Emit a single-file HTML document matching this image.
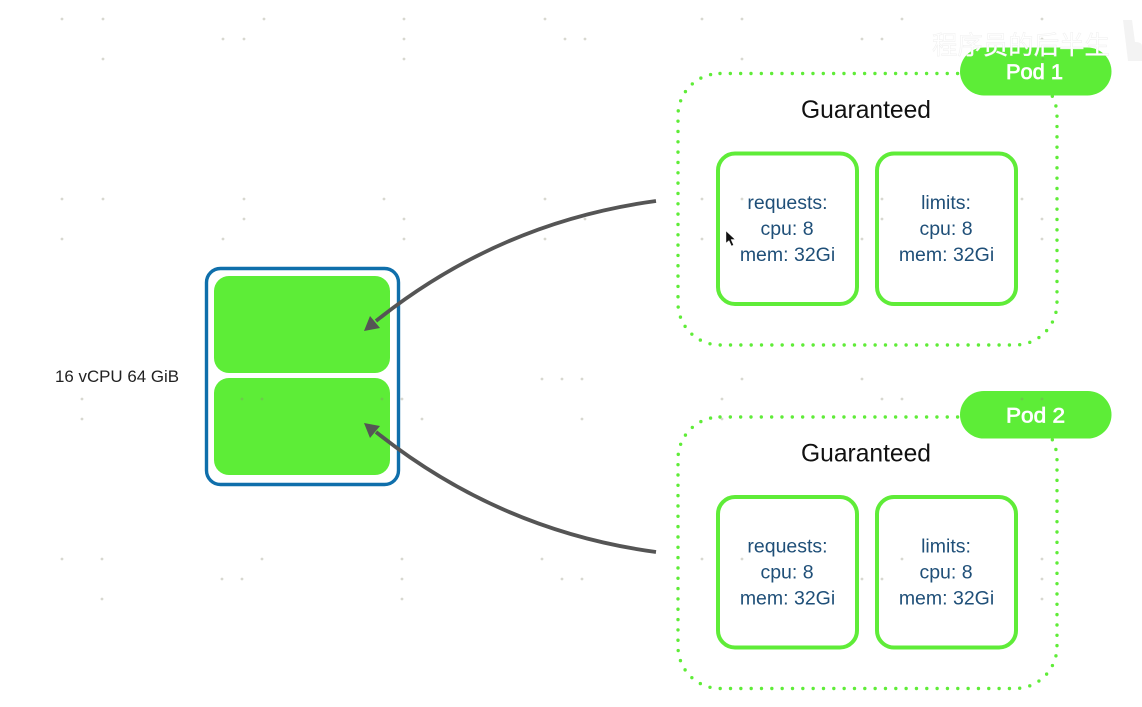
<!DOCTYPE html>
<html><head><meta charset="utf-8"><style>html,body{margin:0;padding:0;background:#fff}svg{display:block}text{font-family:"Liberation Sans","Noto Sans CJK SC",sans-serif}</style></head><body>
<svg width="1142" height="707" viewBox="0 0 1142 707" xmlns="http://www.w3.org/2000/svg">
<rect width="1142" height="707" fill="#fff"/>
<defs>
<g id="pod">
<rect x="678" y="73.5" width="379" height="271.5" rx="42" fill="none" stroke="#5fec38" stroke-width="3.4" stroke-linecap="round" stroke-dasharray="0 10.33"/>
<rect x="718" y="153.5" width="139" height="150.5" rx="17" fill="#fff" stroke="#5fec38" stroke-width="4"/>
<rect x="877" y="153.5" width="139" height="150.5" rx="17" fill="#fff" stroke="#5fec38" stroke-width="4"/>
<text x="801" y="118" font-size="25" fill="#111" textLength="130" lengthAdjust="spacingAndGlyphs">Guaranteed</text>
<g font-size="19.5" fill="#1f4f78" text-anchor="middle">
<text x="787.5" y="209">requests:</text><text x="787" y="235">cpu: 8</text><text x="787.5" y="261">mem: 32Gi</text>
<text x="946" y="209">limits:</text><text x="946" y="235">cpu: 8</text><text x="946.5" y="261">mem: 32Gi</text>
</g>
</g>
</defs>
<use href="#pod"/>
<use href="#pod" y="343.5"/>
<rect x="960" y="47.5" width="151.5" height="48" rx="24" fill="#5ded37"/>
<rect x="960" y="391" width="151.5" height="47.5" rx="23.7" fill="#5ded37"/>
<text x="1006" y="79" font-size="21.5" fill="#fff" stroke="#fff" stroke-width=".7" textLength="57" lengthAdjust="spacingAndGlyphs">Pod 1</text>
<text x="1006" y="422.5" font-size="21.5" fill="#fff" stroke="#fff" stroke-width=".7" textLength="59" lengthAdjust="spacingAndGlyphs">Pod 2</text>
<text x="55" y="382" font-size="17" fill="#222" textLength="124" lengthAdjust="spacingAndGlyphs">16 vCPU 64 GiB</text>
<rect x="206.5" y="268.5" width="192" height="216" rx="14" fill="#fff" stroke="#0f6fab" stroke-width="3.4"/>
<rect x="214" y="276" width="176" height="97" rx="15" fill="#5ded37"/>
<rect x="214" y="378" width="176" height="97" rx="15" fill="#5ded37"/>
<g fill="none" stroke="#555" stroke-width="3.8">
<path d="M656 201Q500 222 376 321"/>
<path d="M656 552Q500 531 376 432"/>
</g>
<g fill="#555">
<polygon points="364,331 370,316 380,328"/>
<polygon points="364,423 370,438 380,426"/>
</g>
<g fill="#8a8a70" fill-opacity=".33">
<circle cx="62" cy="19" r="1.4"/><circle cx="103" cy="19" r="1.4"/><circle cx="264" cy="19" r="1.4"/><circle cx="404" cy="19" r="1.4"/><circle cx="545" cy="19" r="1.4"/><circle cx="702" cy="19" r="1.4"/><circle cx="742" cy="19" r="1.4"/><circle cx="902" cy="19" r="1.4"/><circle cx="1042" cy="19" r="1.4"/>
<circle cx="223" cy="39" r="1.4"/><circle cx="244" cy="39" r="1.4"/><circle cx="404" cy="39" r="1.4"/><circle cx="565" cy="39" r="1.4"/><circle cx="585" cy="39" r="1.4"/><circle cx="862" cy="39" r="1.4"/><circle cx="882" cy="39" r="1.4"/><circle cx="1042" cy="39" r="1.4"/>
<circle cx="103" cy="59" r="1.4"/><circle cx="404" cy="59" r="1.4"/><circle cx="742" cy="59" r="1.4"/><circle cx="1043" cy="59" r="1.4"/>
<circle cx="62" cy="199" r="1.4"/><circle cx="103" cy="199" r="1.4"/><circle cx="244" cy="199" r="1.4"/><circle cx="384" cy="199" r="1.4"/><circle cx="545" cy="199" r="1.4"/><circle cx="702" cy="199" r="1.4"/><circle cx="742" cy="199" r="1.4"/><circle cx="882" cy="199" r="1.4"/><circle cx="1022" cy="199" r="1.4"/>
<circle cx="244" cy="219" r="1.4"/><circle cx="404" cy="219" r="1.4"/><circle cx="585" cy="219" r="1.4"/><circle cx="882" cy="219" r="1.4"/><circle cx="1042" cy="219" r="1.4"/>
<circle cx="62" cy="239" r="1.4"/><circle cx="223" cy="239" r="1.4"/><circle cx="404" cy="239" r="1.4"/><circle cx="545" cy="239" r="1.4"/><circle cx="702" cy="239" r="1.4"/><circle cx="862" cy="239" r="1.4"/><circle cx="1042" cy="239" r="1.4"/>
<circle cx="542" cy="379" r="1.4"/><circle cx="562" cy="379" r="1.4"/><circle cx="582" cy="379" r="1.4"/><circle cx="742" cy="379" r="1.4"/><circle cx="862" cy="379" r="1.4"/>
<circle cx="82" cy="399" r="1.4"/><circle cx="242" cy="399" r="1.4"/><circle cx="262" cy="399" r="1.4"/><circle cx="382" cy="399" r="1.4"/><circle cx="402" cy="399" r="1.4"/><circle cx="722" cy="399" r="1.4"/><circle cx="882" cy="399" r="1.4"/><circle cx="902" cy="399" r="1.4"/><circle cx="1022" cy="399" r="1.4"/><circle cx="1042" cy="399" r="1.4"/>
<circle cx="82" cy="419" r="1.4"/><circle cx="422" cy="419" r="1.4"/><circle cx="582" cy="419" r="1.4"/><circle cx="722" cy="419" r="1.4"/>
<circle cx="62" cy="559" r="1.4"/><circle cx="102" cy="559" r="1.4"/><circle cx="262" cy="559" r="1.4"/><circle cx="402" cy="559" r="1.4"/><circle cx="542" cy="559" r="1.4"/><circle cx="702" cy="559" r="1.4"/><circle cx="742" cy="559" r="1.4"/><circle cx="902" cy="559" r="1.4"/><circle cx="1042" cy="559" r="1.4"/>
<circle cx="222" cy="579" r="1.4"/><circle cx="242" cy="579" r="1.4"/><circle cx="402" cy="579" r="1.4"/><circle cx="562" cy="579" r="1.4"/><circle cx="582" cy="579" r="1.4"/><circle cx="862" cy="579" r="1.4"/><circle cx="882" cy="579" r="1.4"/><circle cx="1042" cy="579" r="1.4"/>
<circle cx="102" cy="599" r="1.4"/><circle cx="402" cy="599" r="1.4"/><circle cx="1042" cy="599" r="1.4"/>
</g>
<polygon points="726,231 726,243 729,240.5 731.5,246 733.5,245 731,239.5 735,239.5" fill="#111" stroke="#fff" stroke-width=".4"/>
<text x="932" y="54" font-size="25.5" fill="#fff" stroke="#efefef" stroke-width=".5" textLength="178" lengthAdjust="spacingAndGlyphs">程序员的后半生</text>
<path d="M1123 20L1132 20L1135 42Q1142 42 1142 46L1142 61L1128 61Z" fill="#f3f3f3"/>
</svg>
</body></html>
